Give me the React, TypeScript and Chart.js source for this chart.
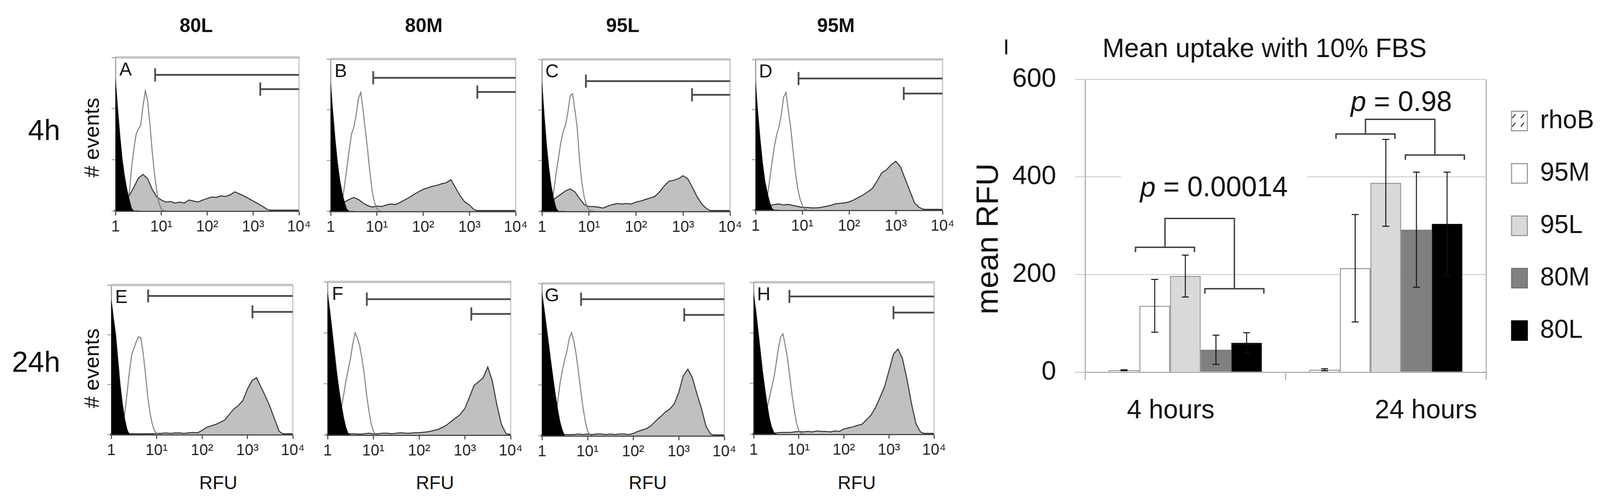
import React, { useEffect, useRef } from "react";
import Chart from "chart.js/auto";

const family = '"Liberation Sans", Arial, Helvetica, sans-serif';
const narrowFamily = '"Liberation Sans Narrow", "Arial Narrow", "Liberation Sans", Arial, sans-serif';

// is a condensed face installed? (measured against monospace)
const hasNarrow = (() => {
  const c = document.createElement("canvas").getContext("2d") as CanvasRenderingContext2D;
  c.font = "80px monospace";
  const a = c.measureText("mmmmWWWWiiii0000").width;
  c.font = '80px "Liberation Sans Narrow", monospace';
  const b = c.measureText("mmmmWWWWiiii0000").width;
  return Math.abs(a - b) > 1;
})();
const chartFamily = hasNarrow ? narrowFamily : family;
const chartSize = hasNarrow ? 80 : 68;

// ---- flow cytometry histograms (RFU on log axis, counts 0..300) ----
const decadeTicks = [1, 10, 100, 1000, 10000];
const decadeLabels = ["1", "10¹", "10²", "10³", "10⁴"];
const countTicks = [0, 100, 200, 300];

// bin positions
const spikeX = [1, 1.12, 1.26, 1.41, 1.58, 1.78, 2, 2.24, 2.51, 2.82, 3.16];
const peakX = [1.58, 1.78, 2, 2.24, 2.51, 2.82, 3.16, 3.55, 3.98, 4.47, 5.01, 5.62, 6.31, 7.08, 7.94, 8.91, 10, 11.2, 12.6];
const binX = [
  1, 1.26, 1.58, 2, 2.51, 3.16, 3.98, 5.01, 6.31, 7.94, 10, 12.6, 15.8, 20, 25.1, 31.6, 39.8, 50.1, 63.1, 79.4,
  100, 126, 158, 200, 251, 316, 398, 501, 631, 794, 1000, 1259, 1585, 1995, 2512, 3162, 3981, 5012, 6310, 7943, 10000,
];

// unstained control (black)
const ctrlA = [258, 200, 145, 100, 68, 42, 22, 5, 0, 0, 0];
const ctrlB = [252, 195, 140, 96, 62, 36, 17, 4, 0, 0, 0];
const ctrlC = [255, 190, 130, 85, 50, 25, 6, 0, 0, 0, 0];
const ctrlD = [255, 195, 140, 95, 60, 35, 16, 3, 0, 0, 0];
const ctrlE = [271, 235, 200, 150, 100, 60, 30, 10, 0, 0, 0];
const ctrlF = [279, 245, 205, 165, 125, 90, 60, 35, 15, 3, 0];
const ctrlG = [282, 250, 215, 180, 145, 110, 78, 50, 26, 10, 0];
const ctrlH = [279, 245, 205, 165, 125, 90, 58, 32, 14, 3, 0];

// free rhoB (open curve)
const dyeA = [0, 8, 35, 85, 120, 150, 160, 168, 205, 235, 215, 170, 115, 72, 38, 14, 3, 0, 0];
const dyeB = [0, 20, 51, 85, 120, 152, 165, 190, 222, 234, 200, 160, 120, 75, 38, 16, 5, 0, 0];
const dyeC = [10, 40, 75, 105, 135, 157, 170, 195, 228, 232, 200, 165, 100, 55, 27, 10, 2, 0, 0];
const dyeD = [5, 25, 60, 94, 125, 150, 165, 190, 225, 234, 198, 165, 120, 76, 44, 22, 9, 2, 0];
const dyeE = [0, 15, 45, 85, 125, 160, 172, 186, 196, 194, 165, 125, 78, 45, 22, 8, 2, 0, 0];
const dyeF = [10, 32, 52, 78, 105, 128, 150, 178, 200, 190, 175, 150, 120, 80, 49, 22, 7, 1, 0];
const dyeG = [5, 22, 42, 70, 105, 130, 150, 168, 192, 203, 185, 160, 126, 90, 55, 28, 9, 2, 0];
const dyeH = [8, 30, 52, 72, 92, 112, 140, 170, 192, 198, 175, 150, 115, 78, 48, 22, 7, 1, 0];

// nanoparticle-loaded cells (grey fill)
const sampleA = [5, 12, 18, 30, 46, 64, 71, 63, 42, 27, 21, 17, 18, 15, 17, 15, 21, 19, 17, 21, 24, 27, 26, 29, 28, 31, 37, 33, 29, 24, 19, 14, 9, 3, 0, 0, 0, 0, 0, 0, 0];
const sampleB = [3, 8, 12, 18, 23, 27, 23, 16, 11, 8, 10, 9, 12, 14, 13, 17, 22, 27, 33, 38, 43, 46, 49, 51, 54, 56, 62, 46, 30, 18, 12, 3, 0, 0, 0, 0, 0, 0, 0, 0, 0];
const sampleC = [4, 10, 18, 27, 33, 40, 44, 38, 25, 13, 9, 9, 8, 6, 10, 13, 15, 14, 15, 14, 18, 20, 23, 26, 29, 38, 50, 59, 61, 64, 70, 64, 47, 28, 14, 5, 0, 0, 0, 0, 0];
const sampleD = [4, 5, 6, 8, 11, 12, 10, 11, 9, 7, 5, 5, 4, 4, 5, 7, 9, 12, 13, 14, 16, 20, 25, 30, 36, 43, 58, 74, 80, 90, 97, 86, 62, 38, 14, 5, 1, 0, 0, 0, 0];
const sampleE = [0, 0, 0, 0, 0, 0, 0, 0, 0, 1, 2, 2, 3, 2, 3, 3, 2, 3, 4, 3, 8, 14, 17, 20, 24, 29, 40, 51, 58, 68, 91, 108, 114, 95, 76, 55, 30, 6, 0, 0, 0];
const sampleF = [0, 0, 0, 0, 1, 2, 2, 1, 2, 3, 2, 2, 3, 3, 2, 3, 4, 3, 3, 4, 4, 5, 6, 8, 10, 14, 19, 26, 33, 40, 52, 74, 97, 104, 112, 133, 105, 58, 20, 2, 0];
const sampleG = [0, 0, 0, 0, 1, 2, 2, 2, 3, 2, 3, 2, 3, 3, 2, 3, 2, 3, 3, 2, 4, 8, 11, 14, 20, 29, 37, 46, 52, 62, 85, 118, 131, 114, 82, 53, 18, 3, 0, 0, 0];
const sampleH = [0, 0, 0, 0, 1, 2, 3, 3, 3, 4, 5, 4, 5, 4, 6, 5, 5, 4, 6, 5, 10, 12, 14, 17, 19, 28, 37, 52, 72, 93, 125, 158, 168, 149, 108, 60, 20, 4, 0, 0, 0];

// marker gates: left edge (RFU) and height (counts)
const gateAllStart = [7.3, 8.3, 8.6, 8.3, 6.5, 7.2, 7.2, 6.2];
const gateAllLevel = [266, 263, 257, 262, 278, 266, 269, 272];
const gateHighStart = [1430, 1480, 1550, 1480, 1290, 1380, 1320, 1260];
const gateHighLevel = [238, 235, 230, 232, 246, 237, 238, 240];

const panelLetters = ["A", "B", "C", "D", "E", "F", "G", "H"];
const controls = [ctrlA, ctrlB, ctrlC, ctrlD, ctrlE, ctrlF, ctrlG, ctrlH];
const dyes = [dyeA, dyeB, dyeC, dyeD, dyeE, dyeF, dyeG, dyeH];
const samples = [sampleA, sampleB, sampleC, sampleD, sampleE, sampleF, sampleG, sampleH];

const columnTitles = ["80L", "80M", "95L", "95M"];
const rowTitles = ["4h", "24h"];

// ---- bar chart: mean uptake ----
const timepoints = ["4 hours", "24 hours"];
const rhoBMean = [4, 5];
const rhoBErr = [1, 2];
const m95Mean = [136, 213];
const m95Err = [54, 110];
const l95Mean = [197, 388];
const l95Err = [43, 89];
const m80Mean = [46, 292];
const m80Err = [30, 118];
const l80Mean = [60, 304];
const l80Err = [21, 106];
const rfuTicks = [0, 200, 400, 600];
const bracketLeft = [256, 488];
const bracketRight = [171, 445];
const bracketTop = [315, 518];
const pValues = ["0.00014", "0.98"];
const pLabelLevel = [376, 551];

// layout (page pixels)
const PAGE_W = 4142;
const PAGE_H = 1284;
const panelBoxes = [
  { l: 299, r: 774, t: 147, b: 539 },
  { l: 856, r: 1335, t: 151, b: 540 },
  { l: 1403, r: 1890, t: 152, b: 540 },
  { l: 1956, r: 2440, t: 152, b: 537 },
  { l: 288, r: 758, t: 729, b: 1111 },
  { l: 848, r: 1322, t: 721, b: 1112 },
  { l: 1403, r: 1875, t: 725, b: 1114 },
  { l: 1951, r: 2418, t: 722, b: 1110 },
];
const colTitleX = [508, 1097, 1612, 2164];
const rfuLabelX = [565, 1126, 1677, 2218];
const pLabelShift = [37, 3];
const timeLabelSpaces = [-4, 11]; // negative: trailing pad, positive: leading pad
const barLeft = 2500;

const panelFrame = {
  id: "panelFrame",
  beforeDatasetsDraw(chart: any) {
    const { ctx, chartArea } = chart;
    const { left, right, top, bottom } = chartArea;
    ctx.save();
    ctx.strokeStyle = "#c4c4c4";
    ctx.lineWidth = 6;
    ctx.beginPath();
    ctx.moveTo(left, top);
    ctx.lineTo(right + 1.5, top);
    ctx.stroke();
    ctx.lineWidth = 3;
    ctx.beginPath();
    ctx.moveTo(right, top);
    ctx.lineTo(right, bottom);
    ctx.stroke();
    ctx.restore();
  },
  afterDatasetsDraw(chart: any, _args: any, opts: any) {
    const { ctx, chartArea } = chart;
    ctx.save();
    ctx.fillStyle = "#111";
    ctx.font = `48px ${family}`;
    ctx.textAlign = "center";
    ctx.textBaseline = "middle";
    ctx.fillText(opts.letter, chartArea.left + 26, chartArea.top + 33);
    ctx.restore();
  },
};

const FlowPanel = ({ i }: { i: number }) => {
  const canvasRef = useRef<HTMLCanvasElement>(null);
  const box = panelBoxes[i];
  const w = box.r - box.l + 30 + 40;
  const h = box.b - box.t + 10 + 80;

  useEffect(() => {
    if (!canvasRef.current) return;
    const pts = (xs: number[], ys: number[]) => xs.map((x, k) => ({ x, y: ys[k] }));
    const gate = (start: number, level: number) => [
      { x: start, y: level + 13 },
      { x: start, y: level - 13 },
      { x: start, y: level },
      { x: 10000, y: level },
    ];
    const chart = new Chart(canvasRef.current, {
      type: "line",
      data: {
        datasets: [
          { data: gate(gateAllStart[i], gateAllLevel[i]), borderColor: "#4a4a4a", borderWidth: 4.5, fill: false },
          { data: gate(gateHighStart[i], gateHighLevel[i]), borderColor: "#4a4a4a", borderWidth: 4.5, fill: false },
          { data: pts(spikeX, controls[i]), borderColor: "#000", backgroundColor: "#000", borderWidth: 1, fill: "origin" },
          { data: pts(peakX, dyes[i]), borderColor: "#7a7a7a", borderWidth: 2.5, fill: false },
          { data: pts(binX, samples[i]), borderColor: "#2e2e2e", backgroundColor: "#c0c0c0", borderWidth: 2.5, fill: "origin" },
        ],
      },
      options: {
        animation: false,
        responsive: false,
        devicePixelRatio: 1,
        layout: { padding: { top: 10, right: 40, left: 0, bottom: 0 } },
        elements: { point: { radius: 0 }, line: { tension: 0 } },
        plugins: {
          legend: { display: false },
          tooltip: { enabled: false },
          panelFrame: { letter: panelLetters[i] },
        } as any,
        scales: {
          x: {
            type: "logarithmic",
            min: 1,
            max: 10000,
            afterBuildTicks: (s: any) => {
              s.ticks = decadeTicks.map((v) => ({ value: v }));
            },
            afterFit: (s: any) => {
              s.height = 80;
            },
            ticks: {
              autoSkip: false,
              maxRotation: 0,
              padding: 6,
              color: "#222",
              font: { size: hasNarrow ? 46 : 40, family: chartFamily },
              callback: (_v: any, idx: number) => decadeLabels[idx],
            },
            grid: { drawOnChartArea: false, tickLength: 12, tickColor: "#555", tickWidth: 3 },
            border: { color: "#4a4a4a", width: 6 },
          },
          y: {
            min: 0,
            max: 300,
            afterBuildTicks: (s: any) => {
              s.ticks = countTicks.map((v) => ({ value: v }));
            },
            afterFit: (s: any) => {
              s.width = 30;
            },
            ticks: { display: false },
            grid: { drawOnChartArea: false, tickLength: 10, tickColor: "#8a8a8a", tickWidth: 2 },
            border: { color: "#8a8a8a", width: 2.5 },
          },
        },
      } as any,
      plugins: [panelFrame],
    });
    return () => chart.destroy();
  }, [i]);

  return (
    <canvas
      ref={canvasRef}
      width={w}
      height={h}
      style={{ position: "absolute", left: box.l - 30, top: box.t - 10, width: w, height: h }}
    />
  );
};

const barNotes = {
  id: "barNotes",
  afterDatasetsDraw(chart: any) {
    const { ctx } = chart;
    const y = chart.scales.y;
    ctx.save();
    // error bars
    chart.data.datasets.forEach((ds: any, di: number) => {
      chart.getDatasetMeta(di).data.forEach((bar: any, k: number) => {
        const m = ds.data[k];
        const e = ds.errors[k];
        const y1 = y.getPixelForValue(m + e);
        const y0 = y.getPixelForValue(m - e);
        ctx.strokeStyle = "#111";
        ctx.lineWidth = 2.5;
        ctx.beginPath();
        ctx.moveTo(bar.x, y1);
        ctx.lineTo(bar.x, y0);
        ctx.moveTo(bar.x - 9, y1);
        ctx.lineTo(bar.x + 9, y1);
        ctx.moveTo(bar.x - 9, y0);
        ctx.lineTo(bar.x + 9, y0);
        ctx.stroke();
      });
    });
    // significance brackets
    const leg = 10;
    timepoints.forEach((_t, g) => {
      const b = (d: number) => chart.getDatasetMeta(d).data[g];
      const w = b(1).width;
      const lx0 = b(1).x - w / 2 - 10;
      const lx1 = b(2).x + w / 2 - 16;
      const rx0 = b(3).x - w / 2 + 11;
      const rx1 = b(4).x + w / 2 + 5;
      const ly = y.getPixelForValue(bracketLeft[g]);
      const ry = y.getPixelForValue(bracketRight[g]);
      const ty = y.getPixelForValue(bracketTop[g]);
      const dl = y.getPixelForValue(bracketLeft[g] - leg) - ly;
      const lm = (lx0 + lx1) / 2;
      const rm = (rx0 + rx1) / 2;
      ctx.strokeStyle = "#3a3a3a";
      ctx.lineWidth = 3.5;
      ctx.beginPath();
      ctx.moveTo(lx0, ly + dl);
      ctx.lineTo(lx0, ly);
      ctx.lineTo(lx1, ly);
      ctx.lineTo(lx1, ly + dl);
      ctx.moveTo(rx0, ry + dl);
      ctx.lineTo(rx0, ry);
      ctx.lineTo(rx1, ry);
      ctx.lineTo(rx1, ry + dl);
      ctx.moveTo(lm, ly);
      ctx.lineTo(lm, ty);
      ctx.lineTo(rm, ty);
      ctx.lineTo(rm, ry);
      ctx.stroke();

      // p value with white backing
      const py = y.getPixelForValue(pLabelLevel[g]);
      const italic = `italic 72px ${family}`;
      const plain = `72px ${family}`;
      ctx.font = italic;
      const wp = ctx.measureText("p").width;
      ctx.font = plain;
      const rest = ` = ${pValues[g]}`;
      const wr = ctx.measureText(rest).width;
      const cx = (lm + rm) / 2 + pLabelShift[g];
      const x0 = cx - (wp + wr) / 2;
      ctx.fillStyle = "#fff";
      ctx.fillRect(x0 - 50, py - 54, wp + wr + 100, 86);
      ctx.fillStyle = "#111";
      ctx.textBaseline = "middle";
      ctx.textAlign = "left";
      ctx.font = italic;
      ctx.fillText("p", x0, py);
      ctx.font = plain;
      ctx.fillText(rest, x0 + wp, py);
    });
    ctx.restore();
  },
};

// puts the legend column at a fixed x and widens its clip box to the canvas edge
const legendPin = {
  id: "legendPin",
  afterLayout(chart: any, _args: any, opts: any) {
    const lg = chart.legend;
    if (!lg) return;
    lg.left = opts.left;
    lg.right = chart.width;
    lg.width = lg.right - lg.left;
  },
};

const UptakeChart = () => {
  const canvasRef = useRef<HTMLCanvasElement>(null);
  const W = 1642;
  const H = 1284;

  useEffect(() => {
    if (!canvasRef.current) return;
    const tile = document.createElement("canvas");
    tile.width = 22;
    tile.height = 22;
    const t = tile.getContext("2d") as CanvasRenderingContext2D;
    t.fillStyle = "#fff";
    t.fillRect(0, 0, 22, 22);
    t.strokeStyle = "#222";
    t.lineWidth = 2.5;
    t.beginPath();
    t.moveTo(7, 16);
    t.lineTo(15, 6);
    t.stroke();
    const ctx = canvasRef.current.getContext("2d") as CanvasRenderingContext2D;
    const hatch = ctx.createPattern(tile, "repeat");

    const lh = chartSize * 1.2;
    const titleTop = 127 - lh / 2;
    const legendFont = hasNarrow ? 78 : 66;
    const legendPad = 134 - legendFont;

    const chart = new Chart(canvasRef.current, {
      type: "bar",
      data: {
        labels: timepoints,
        datasets: [
          { label: "rhoB", data: rhoBMean, errors: rhoBErr, backgroundColor: hatch, borderColor: "#8c8c8c", borderWidth: 2.5 },
          { label: "95M", data: m95Mean, errors: m95Err, backgroundColor: "#ffffff", borderColor: "#8c8c8c", borderWidth: 2.5 },
          { label: "95L", data: l95Mean, errors: l95Err, backgroundColor: "#d9d9d9", borderColor: "#8c8c8c", borderWidth: 2.5 },
          { label: "80M", data: m80Mean, errors: m80Err, backgroundColor: "#808080", borderColor: "#6e6e6e", borderWidth: 2.5 },
          { label: "80L", data: l80Mean, errors: l80Err, backgroundColor: "#000000", borderColor: "#000000", borderWidth: 2.5 },
        ] as any,
      },
      options: {
        animation: false,
        responsive: false,
        devicePixelRatio: 1,
        layout: { padding: { left: 0, top: 0, bottom: 0, right: 95 } },
        datasets: { bar: { categoryPercentage: 0.764, barPercentage: 1 } },
        plugins: {
          title: {
            display: true,
            text: "Mean uptake with 10% FBS",
            color: "#111",
            font: { size: chartSize, family: chartFamily, weight: "normal", lineHeight: 1.2 },
            padding: { top: titleTop, bottom: 203 - titleTop - lh },
          },
          legend: {
            position: "right",
            fullSize: false,
            maxWidth: 200,
            labels: {
              color: "#111",
              font: { size: legendFont, family: chartFamily },
              boxWidth: 41,
              boxHeight: 50,
              padding: legendPad,
            },
          },
          legendPin: { left: 3913 - barLeft - legendPad },
          tooltip: { enabled: false },
        } as any,
        scales: {
          x: {
            afterFit: (s: any) => {
              s.height = 332;
            },
            ticks: {
              color: "#111",
              font: { size: chartSize, family: chartFamily },
              padding: 38,
              callback: (_v: any, idx: number) => {
                const n = timeLabelSpaces[idx];
                const pad = " ".repeat(Math.abs(n));
                return n < 0 ? timepoints[idx] + pad : pad + timepoints[idx];
              },
            },
            grid: {
              offset: true,
              lineWidth: 2.5,
              tickLength: 20,
              tickColor: "#a6a6a6",
              color: (c: any) => (c.index === 1 ? "rgba(0,0,0,0)" : "#a6a6a6"),
            },
            border: { color: "#a6a6a6", width: 2.5 },
          },
          y: {
            min: 0,
            max: 600,
            afterBuildTicks: (s: any) => {
              s.ticks = rfuTicks.map((v) => ({ value: v }));
            },
            afterFit: (s: any) => {
              s.width = 309;
            },
            ticks: { color: "#111", font: { size: chartSize, family: chartFamily }, padding: 49 },
            grid: { color: "#d0d0d0", lineWidth: 2.5, tickLength: 26, tickColor: "#d0d0d0" },
            border: { color: "#a6a6a6", width: 2.5 },
            title: {
              display: true,
              text: "mean RFU   ",
              color: "#111",
              font: { size: 80, family, lineHeight: 1 },
              padding: { top: 21, bottom: 0 },
            },
          },
        },
      } as any,
      plugins: [barNotes, legendPin],
    });
    return () => chart.destroy();
  }, []);

  return (
    <canvas ref={canvasRef} width={W} height={H} style={{ position: "absolute", left: barLeft, top: 0, width: W, height: H }} />
  );
};

const Label = ({ x, y, size, text, rotate = 0, align = "center", weight = "normal" }: any) => (
  <div
    style={{
      position: "absolute",
      left: x,
      top: y,
      transform: `translate(${align === "right" ? "-100%" : "-50%"}, -50%) rotate(${rotate}deg)`,
      fontSize: size,
      fontWeight: weight,
      lineHeight: 1,
      whiteSpace: "nowrap",
      color: "#111",
      fontFamily: family,
    }}
  >
    {text}
  </div>
);

export default function App() {
  // the browser viewport may be narrower than the 4142px picture; map the figure onto it
  const sx = (window.innerWidth || PAGE_W) / PAGE_W;
  const sy = (window.innerHeight || PAGE_H) / PAGE_H;
  return (
    <div
      style={{
        position: "absolute",
        left: 0,
        top: 0,
        width: PAGE_W,
        height: PAGE_H,
        overflow: "hidden",
        background: "#fff",
        fontFamily: family,
        transform: `scale(${sx}, ${sy})`,
        transformOrigin: "0 0",
      }}
    >
      {columnTitles.map((t, k) => (
        <Label key={t} x={colTitleX[k]} y={65} size={50} text={t} weight="bold" />
      ))}
      <Label x={156} y={332} size={75} text={rowTitles[0]} align="right" />
      <Label x={156} y={925} size={75} text={rowTitles[1]} align="right" />
      <Label x={237} y={352} size={54} text="# events" rotate={-90} />
      <Label x={237} y={942} size={54} text="# events" rotate={-90} />
      {rfuLabelX.map((x, k) => (
        <Label key={k} x={x} y={1235} size={48} text="RFU" />
      ))}
      {panelLetters.map((_l, k) => (
        <FlowPanel key={k} i={k} />
      ))}
      <Label x={2605} y={120} size={56} text="I" />
      <UptakeChart />
    </div>
  );
}
